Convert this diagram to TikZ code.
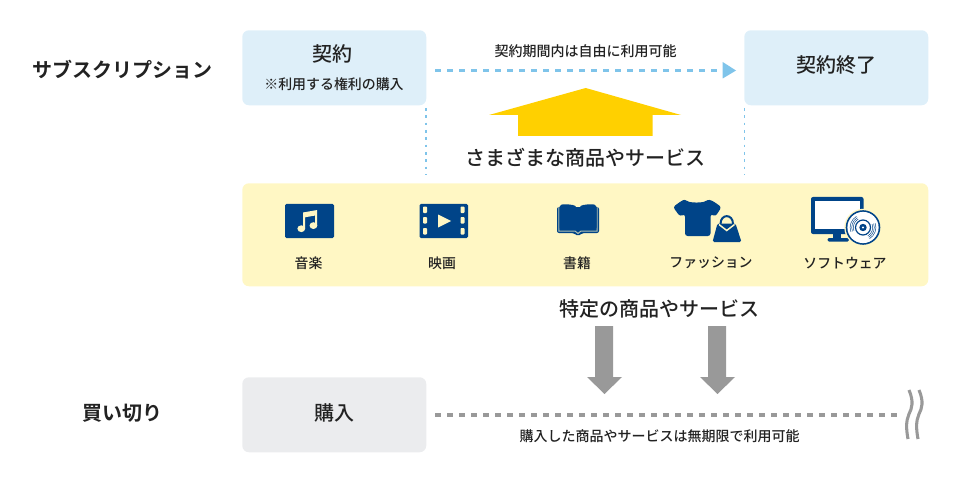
\documentclass[tikz,border=0pt]{standalone}
\usepackage{fontspec}
\setmainfont{Noto Sans CJK JP}[BoldFont={Noto Sans CJK JP Bold}]
\newfontfamily\medf{Noto Sans CJK JP Medium}
\definecolor{lblue}{HTML}{DEEFF9}
\definecolor{sky}{HTML}{7FC4EA}
\definecolor{lyellow}{HTML}{FFF7C4}
\definecolor{lgray}{HTML}{EBECEE}
\definecolor{navy}{HTML}{004488}
\definecolor{gold}{HTML}{FFD000}
\definecolor{mgray}{HTML}{999999}
\definecolor{ink}{HTML}{222222}
\tikzset{
 x=0.75pt,y=-0.75pt,
 txt/.style={inner sep=0,text=ink,font=\medf},
 box/.style={rounded corners=5pt,draw=none,minimum width=138pt,minimum height=56.25pt,inner sep=0},
 lbl/.style={txt,font=\medf\fontsize{10.4}{12}\selectfont},
 ttl/.style={txt,font=\medf\fontsize{15}{18}\selectfont},
 dashline/.style={line width=2.3pt,dash pattern=on 4.5pt off 4.5pt},
 dotline/.style={sky,line width=1.1pt,dash pattern=on 2pt off 3.5pt},
}
\begin{document}
\begin{tikzpicture}
\useasboundingbox (0,0) rectangle (960,481);
% boxes
\node[box,fill=lblue,anchor=north west] (keiyaku) at (242,30) {};
\node[box,fill=lblue,anchor=north west] (end) at (744,30) {};
\node[box,fill=lgray,anchor=north west] (buy) at (242,377) {};
\node[anchor=north west,fill=lyellow,rounded corners=5pt,minimum width=514.5pt,minimum height=77.25pt,inner sep=0] (goods) at (242,183) {};
% box texts
\node[ttl] (t1) at (332,54) {契約};
\node[txt,font=\medf\fontsize{10.45}{12}\selectfont] (t2) at (334,84) {※利用する権利の購入};
\node[ttl] (t3) at (836,65) {契約終了};
\node[ttl] (t4) at (334,413) {購入};
\node[txt,font=\bfseries\fontsize{15}{18}\selectfont] (s1) at (122.5,70) {サブスクリプション};
\node[txt,font=\bfseries\fontsize{15}{18}\selectfont] (s2) at (122,413) {買い切り};
\node[txt,font=\medf\fontsize{10.5}{12}\selectfont] (p1) at (585.5,51) {契約期間内は自由に利用可能};
\node[txt,font=\medf\fontsize{15}{18}\selectfont] (p2) at (585.5,158) {さまざまな商品やサービス};
\node[txt,font=\medf\fontsize{15}{18}\selectfont] (p3) at (659,309) {特定の商品やサービス};
\node[txt,font=\medf\fontsize{10.5}{12}\selectfont] (p4) at (659.5,436) {購入した商品やサービスは無期限で利用可能};
% connectors
\coordinate (a1) at (435,70.7);
\coordinate (a2) at (723,70.7);
\draw[sky,dashline] (a1) -- (a2);
\fill[sky] (722.7,62) -- (736,70.5) -- (722.7,78.5) -- cycle;
\coordinate (v1) at (426,108);\coordinate (v2) at (426,175);
\coordinate (v3) at (744.3,108);\coordinate (v4) at (744.3,175);
\draw[dotline] (v1) -- (v2);
\draw[dotline] (v3) -- (v4);
\coordinate (g1) at (435,415);\coordinate (g2) at (898,415);
\draw[mgray,dashline] (g1) -- (g2);
% big arrow
\fill[gold] (585.7,88) -- (681,115) -- (652.7,115) -- (652.7,136) -- (518,136) -- (518,115) -- (489,115) -- cycle;
% grey arrows
\fill[mgray] (595,326) -- (613,326) -- (613,377) -- (622,377) -- (604.5,394) -- (587,377) -- (595,377) -- cycle;
\fill[mgray] (708,326) -- (726,326) -- (726,377) -- (735,377) -- (717.5,394) -- (700,377) -- (708,377) -- cycle;
% waves
\foreach \xx in {909,919}{
\draw[mgray,line width=2.3pt] (\xx,390) .. controls (\xx+5,402) and (\xx+3,408) .. (\xx,414) .. controls (\xx-3,421) and (\xx-3,428) .. (\xx-1,439);
}
% icon labels
\node[lbl] (l1) at (308.5,263) {音楽};
\node[lbl] (l2) at (442,263) {映画};
\node[lbl] (l3) at (577,263) {書籍};
\node[lbl] (l4) at (711,263) {ファッション};
\node[lbl] (l5) at (845,263) {ソフトウェア};
% music icon
\fill[navy,rounded corners=1pt] (285,204) rectangle (334,238);
\fill[lyellow] (303,212.5) -- (317.2,210) -- (317.2,225.5) -- (315.2,225.5) -- (315.2,215.5) -- (305,217.3) -- (305,228.5) -- (303,228.5) -- cycle;
\fill[lyellow] (301.3,228.7) ellipse (3.9 and 3.4);
\fill[lyellow] (313.4,225.6) ellipse (3.9 and 3.4);
% film icon
\fill[navy,rounded corners=1pt] (419.5,204) rectangle (468,238);
\foreach \yy in {206.5,217,228}{
 \fill[lyellow,rounded corners=0.6pt] (423,\yy) rectangle (427,\yy+6.5);
 \fill[lyellow,rounded corners=0.6pt] (460.5,\yy) rectangle (464.5,\yy+6.5);
}
\fill[lyellow] (438,214.5) -- (451,221) -- (438,227.5) -- cycle;
% book icon
\fill[navy,rounded corners=1.5pt] (557,207) -- (599,207) -- (599,233) -- (582,233) -- (578,236.5) -- (574,233) -- (557,233) -- cycle;
\draw[lyellow!70!navy,line width=0.75pt] (558.8,207) -- (558.8,231) -- (575,231) -- (578,233.5) -- (581,231) -- (597.2,231) -- (597.2,207);
\fill[navy,rounded corners=1.5pt] (559.5,204.8) .. controls (566,204) and (573,204.5) .. (577,207) -- (577,229.5) .. controls (572,228) and (566,228) .. (559.5,229.5) -- cycle;
\fill[navy,rounded corners=1.5pt] (596.5,204.8) .. controls (590,204) and (583,204.5) .. (579,207) -- (579,229.5) .. controls (584,228) and (590,228) .. (596.5,229.5) -- cycle;
% shirt
\fill[navy,rounded corners=2pt] (685.5,199.5) .. controls (690,203) and (703,203) .. (707.5,199.5) -- (712,200.5) -- (721.5,207) -- (715.5,216.5) -- (710.5,214) -- (710.5,236) -- (685,236) -- (685,214) -- (680,216.5) -- (673,207) -- (682,200.5) -- cycle;
% bag
\fill[lyellow] (718,218) -- (712,243) -- (742,243) -- (735,218) -- cycle;
\draw[navy,line width=1.5pt] (720.5,224) .. controls (720.5,213.5) and (733,213.5) .. (733,224);
\fill[navy,rounded corners=1.2pt] (717.5,223.5) -- (735.5,223.5) -- (741.5,242) -- (712.5,242) -- cycle;
\draw[lyellow,line width=1.1pt] (719,224.5) -- (726.7,230.5) -- (734.5,224.5);
% monitor
\fill[navy,rounded corners=1.5pt] (811,197) rectangle (863.5,234);
\fill[white] (815,201) rectangle (859.5,229);
\fill[navy] (833,234) rectangle (841,238.5);
\fill[navy,rounded corners=1pt] (827.5,238) rectangle (849,241.5);
% disc
\fill[lyellow] (863,227.5) circle (18.7);
\fill[navy] (863,227.5) circle (17.3);
\fill[white] (863,227.5) circle (15.6);
\draw[navy,line width=0.9pt] (863,227.5) circle (7.5);
\fill[navy] (863,227.5) circle (3.7);
\fill[white] (863,227.5) circle (1.2);
\foreach \r in {9.7,11.3,12.9}{
 \draw[navy,line width=0.35pt] (863,227.5) ++(160:\r) arc[start angle=160,end angle=240,radius=\r];
 \draw[navy,line width=0.35pt] (863,227.5) ++(-20:\r) arc[start angle=-20,end angle=60,radius=\r];
}
\end{tikzpicture}
\end{document}
